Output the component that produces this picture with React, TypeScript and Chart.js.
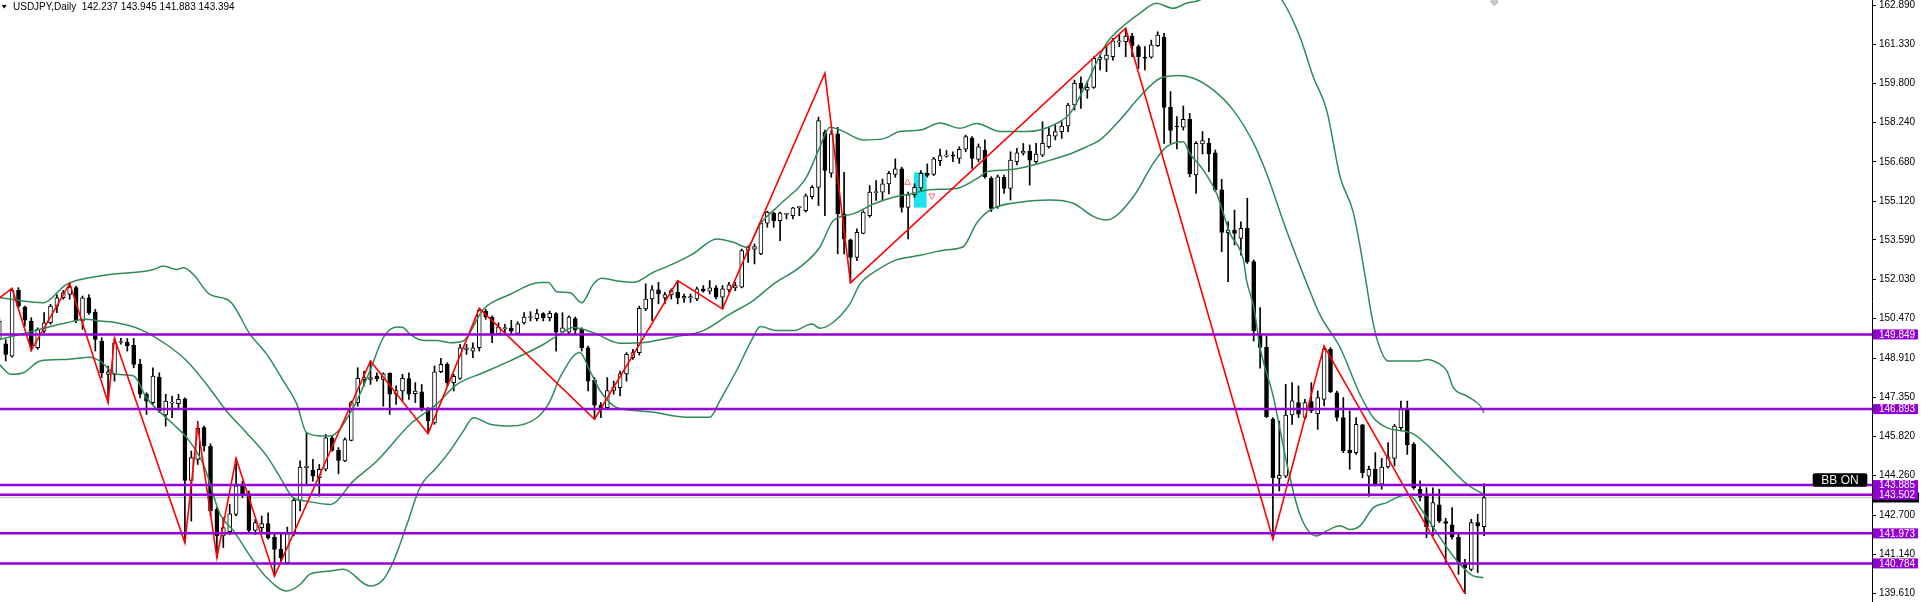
import React, { useEffect, useRef } from "react";
import { Chart, registerables } from "chart.js";

Chart.register(...registerables);

const symbolTitle = "USDJPY,Daily  142.237 143.945 141.883 143.394";
const firstBarIndex = -1;

const opens = [
  149.65, 149.48, 148.99, 151.59, 150.93, 150.38, 149.32, 149.98, 150.31, 150.97, 151.30, 151.43, 151.70, 150.38, 151.30, 150.73,
  149.59, 148.27, 148.27, 149.53, 149.55, 149.42, 148.66, 147.48, 147.15, 148.16, 146.66, 147.13, 147.11, 147.30, 144.07, 144.90,
  146.16, 145.43, 142.92, 141.87, 142.04, 142.72, 143.85, 143.54, 142.09, 142.20, 142.36, 141.83, 141.34, 140.81, 141.96, 143.28,
  144.57, 144.47, 144.18, 144.51, 145.76, 145.26, 144.84, 145.65, 147.15, 148.06, 148.07, 148.20, 148.07, 148.31, 147.48, 147.61,
  148.10, 147.50, 147.58, 146.88, 146.35, 148.37, 148.66, 147.94, 148.11, 149.26, 149.19, 149.32, 150.77, 150.54, 149.88, 150.08,
  150.09, 149.89, 150.30, 150.52, 150.47, 150.67, 150.51, 150.67, 149.94, 149.94, 150.48, 150.05, 149.32, 148.03, 147.05, 146.95,
  147.63, 147.74, 148.29, 148.93, 149.13, 150.86, 151.25, 151.61, 151.29, 151.41, 151.52, 151.28, 151.29, 151.25, 151.65, 151.56,
  151.69, 151.32, 151.61, 151.69, 151.72, 153.17, 153.22, 153.04, 154.25, 154.65, 154.35, 154.60, 154.55, 154.87, 154.75, 155.30,
  155.67, 157.85, 156.23, 157.79, 154.62, 153.59, 152.90, 153.85, 154.55, 155.46, 155.48, 155.81, 156.18, 156.40, 154.88, 155.38,
  155.65, 156.23, 156.18, 156.73, 156.91, 156.95, 156.82, 157.18, 157.61, 156.78, 157.15, 156.03, 154.91, 156.07, 155.63, 156.69,
  157.02, 157.11, 156.69, 156.95, 157.28, 157.70, 157.88, 158.10, 158.93, 159.79, 159.52, 159.63, 160.74, 160.74, 160.84, 161.43,
  161.44, 161.66, 161.24, 160.82, 160.82, 161.28, 161.61, 158.84, 158.09, 158.05, 158.36, 156.16, 157.39, 157.41, 157.04, 155.57,
  153.88, 153.98, 153.65, 154.05, 152.73, 149.88, 149.35, 146.49, 144.15, 144.24, 146.66, 147.15, 146.56, 147.19, 146.71, 147.28,
  149.26, 147.54, 146.56, 145.26, 145.17, 146.27, 144.24, 144.51, 143.92, 144.60, 144.94, 146.16, 146.88, 145.50, 143.72, 143.45,
  142.23, 143.10, 142.44, 142.31, 141.83, 140.81, 140.55, 142.40, 142.237
];
const highs = [
  150.51, 149.65, 151.67, 151.70, 150.97, 150.51, 150.11, 150.71, 151.04, 151.43, 151.59, 151.90, 151.76, 151.37, 151.43, 150.84,
  149.72, 148.60, 149.69, 149.69, 149.69, 149.69, 148.86, 147.54, 148.53, 148.33, 147.48, 147.41, 147.48, 147.34, 145.23, 146.40,
  146.22, 145.52, 142.99, 142.59, 143.12, 144.94, 144.04, 143.65, 142.53, 142.66, 142.79, 141.93, 141.93, 142.22, 143.38, 144.84,
  145.96, 144.90, 144.70, 145.89, 145.83, 145.37, 145.76, 147.21, 148.53, 148.40, 148.80, 148.33, 148.33, 148.33, 147.81, 148.27,
  148.33, 147.94, 147.87, 146.95, 148.60, 148.90, 148.73, 148.27, 149.46, 149.46, 149.52, 150.88, 150.84, 150.58, 150.31, 150.25,
  150.41, 150.35, 150.71, 150.75, 150.84, 150.71, 150.77, 150.71, 150.71, 150.58, 150.54, 150.11, 149.39, 148.14, 147.15, 148.14,
  148.00, 148.40, 149.13, 149.26, 150.97, 151.85, 151.78, 151.91, 151.52, 151.65, 151.98, 151.45, 151.45, 151.72, 151.78, 151.98,
  151.78, 151.78, 151.91, 151.91, 153.23, 153.36, 153.43, 154.35, 154.73, 154.69, 154.69, 154.65, 154.88, 154.91, 155.41, 155.74,
  158.45, 157.94, 157.92, 158.05, 156.27, 153.63, 154.03, 154.75, 155.74, 155.94, 156.00, 156.31, 156.80, 156.47, 155.48, 155.81,
  156.34, 156.60, 156.86, 157.19, 157.13, 157.08, 157.28, 157.74, 157.68, 157.39, 157.55, 156.09, 156.16, 156.16, 157.08, 157.22,
  157.41, 157.35, 157.41, 158.27, 158.07, 158.14, 158.27, 159.00, 159.92, 160.05, 159.85, 160.84, 160.91, 161.24, 161.57, 161.70,
  161.95, 161.77, 161.31, 161.24, 161.50, 161.83, 161.77, 159.46, 158.47, 158.89, 158.60, 157.48, 157.88, 157.61, 157.15, 155.99,
  154.31, 154.77, 154.31, 155.24, 152.80, 150.91, 149.79, 146.56, 146.42, 147.87, 147.94, 147.81, 147.28, 147.94, 147.61, 149.39,
  149.33, 147.61, 147.35, 146.82, 146.56, 146.29, 144.64, 145.17, 144.94, 145.57, 146.29, 147.21, 147.21, 145.57, 144.05, 143.78,
  143.78, 143.72, 142.57, 142.99, 142.00, 140.95, 142.53, 142.73, 143.945
];
const lows = [
  149.59, 148.80, 148.95, 150.91, 150.18, 149.19, 149.26, 149.92, 150.25, 150.71, 151.24, 151.24, 150.31, 150.05, 150.64, 149.19,
  148.14, 147.15, 148.00, 149.46, 149.19, 148.53, 147.34, 146.68, 147.08, 146.75, 146.22, 146.55, 146.95, 141.60, 142.46, 144.70,
  145.23, 142.66, 141.01, 141.41, 141.93, 142.66, 143.39, 142.00, 141.93, 142.00, 141.74, 140.28, 140.81, 140.75, 141.87, 142.86,
  143.85, 144.04, 143.45, 144.44, 145.23, 144.33, 144.81, 145.63, 147.01, 147.81, 147.87, 148.00, 147.01, 146.68, 147.08, 147.21,
  147.28, 147.15, 146.82, 145.92, 146.29, 148.33, 147.81, 147.61, 148.07, 149.06, 148.93, 149.19, 150.45, 149.52, 149.85, 149.92,
  149.85, 149.85, 150.25, 150.38, 150.38, 150.38, 150.38, 149.19, 149.92, 149.85, 149.85, 149.19, 147.61, 146.49, 146.55, 146.88,
  147.48, 147.41, 148.00, 148.86, 149.03, 150.79, 150.39, 151.06, 151.06, 151.25, 151.06, 151.12, 151.12, 151.19, 151.52, 151.45,
  151.25, 150.86, 151.52, 151.58, 151.69, 152.70, 152.64, 153.01, 154.09, 154.09, 153.56, 154.42, 154.42, 154.55, 154.69, 155.21,
  154.95, 154.55, 156.07, 153.04, 153.04, 151.91, 152.77, 153.83, 154.49, 155.15, 155.15, 155.41, 156.07, 154.69, 153.63, 155.28,
  155.54, 156.07, 156.14, 156.53, 156.86, 156.69, 156.62, 157.08, 156.42, 156.69, 156.03, 154.71, 154.84, 155.43, 155.17, 156.56,
  156.95, 155.76, 156.62, 156.89, 157.22, 157.55, 157.61, 157.88, 158.73, 158.80, 159.20, 159.59, 160.32, 160.25, 160.71, 161.24,
  160.84, 160.84, 160.38, 160.32, 160.78, 161.24, 157.41, 157.41, 157.19, 157.94, 156.09, 155.43, 156.99, 156.29, 155.50, 153.12,
  151.94, 153.39, 152.99, 152.66, 149.59, 148.51, 146.56, 141.74, 143.65, 144.18, 146.29, 146.56, 146.49, 146.75, 146.09, 147.02,
  147.54, 146.42, 145.17, 144.51, 145.10, 144.18, 143.45, 143.85, 143.72, 144.55, 144.64, 146.03, 145.10, 143.72, 143.26, 141.80,
  141.87, 142.40, 140.75, 141.74, 140.35, 139.59, 140.49, 140.42, 141.883
];
const closes = [
  150.38, 149.06, 151.59, 150.97, 150.41, 149.39, 150.05, 150.31, 150.97, 151.30, 151.50, 151.72, 150.38, 151.30, 150.71, 149.65,
  148.33, 148.37, 149.52, 149.56, 149.39, 148.66, 147.48, 147.21, 148.20, 146.82, 147.21, 147.16, 147.28, 144.07, 144.97, 146.13,
  145.43, 142.86, 141.87, 142.20, 142.75, 143.85, 143.54, 142.09, 142.40, 142.36, 141.80, 141.34, 141.01, 141.96, 143.28, 144.60,
  144.64, 144.24, 144.51, 145.76, 145.26, 144.86, 145.69, 147.15, 148.11, 148.14, 148.14, 148.10, 148.29, 147.48, 147.63, 148.11,
  147.48, 147.61, 146.88, 146.42, 148.37, 148.66, 147.94, 148.19, 149.32, 149.32, 149.32, 150.80, 150.54, 149.88, 150.14, 150.10,
  149.98, 150.27, 150.54, 150.55, 150.67, 150.51, 150.68, 149.94, 150.11, 150.54, 150.02, 149.32, 148.00, 147.05, 146.95, 147.63,
  147.77, 148.29, 149.06, 149.13, 150.88, 151.25, 151.61, 151.45, 151.43, 151.58, 151.29, 151.36, 151.35, 151.65, 151.56, 151.69,
  151.32, 151.65, 151.81, 151.78, 153.17, 153.30, 153.33, 154.25, 154.69, 154.35, 154.65, 154.63, 154.86, 154.90, 155.34, 155.67,
  158.31, 156.34, 157.79, 154.62, 153.63, 152.90, 153.89, 154.69, 155.48, 155.49, 155.81, 156.23, 156.40, 154.88, 155.38, 155.67,
  156.23, 156.14, 156.80, 156.93, 156.94, 156.91, 157.18, 157.68, 156.82, 157.28, 156.09, 154.84, 156.09, 155.63, 156.75, 157.04,
  157.11, 156.75, 156.99, 157.41, 157.74, 157.88, 158.10, 158.93, 159.79, 159.59, 159.63, 160.78, 160.82, 160.91, 161.47, 161.45,
  161.66, 161.27, 160.84, 160.79, 161.31, 161.70, 158.84, 157.92, 158.06, 158.36, 156.20, 157.41, 157.52, 156.99, 155.57, 153.89,
  153.98, 153.85, 154.05, 152.73, 149.99, 149.33, 146.58, 144.18, 144.27, 146.66, 147.22, 146.69, 147.15, 146.82, 147.35, 149.26,
  147.58, 146.56, 145.24, 145.17, 146.29, 144.38, 144.51, 143.92, 144.60, 145.00, 146.22, 146.88, 145.47, 143.78, 143.41, 142.23,
  143.19, 142.46, 142.37, 141.83, 140.85, 140.62, 142.40, 142.27, 143.394
];

const bbUpper: [number, number][] = [
  [-1, 151.30], [5.9, 151.10], [9.5, 151.83], [14.7, 152.16], [23.1, 152.42], [24.6, 152.56], [26.7, 152.42], [27.75, 152.49],
  [29.3, 152.23], [31.9, 151.43], [35.0, 151.17], [38.2, 149.85], [40.8, 149.06], [43.4, 148.0], [45.5, 147.08], [47.0, 145.96],
  [49.6, 145.83], [50.7, 145.83], [54.3, 146.95], [56.9, 148.4], [59.0, 149.72], [61.1, 150.14], [62.1, 150.12], [63.2, 149.85],
  [65.3, 149.61], [67.3, 149.61], [69.4, 149.52], [71.5, 149.59], [74.6, 150.84], [78.8, 151.43], [83.5, 151.9], [84.8, 151.9],
  [86.1, 151.54], [88.2, 151.5], [90.0, 151.1], [91.8, 151.83], [93.1, 152.07], [96.0, 151.95], [98.1, 151.91], [101.2, 152.31],
  [104.3, 152.64], [107.4, 153.04], [111.1, 153.63], [113.7, 153.5], [115.8, 153.3], [117.9, 154.22], [121.0, 155.0], [125.1, 156.07],
  [127.2, 157.26], [128.8, 158.05], [130.4, 157.94], [134.0, 157.55], [137.1, 157.59], [139.7, 157.88], [142.9, 157.94], [146.0, 158.22],
  [149.1, 158.01], [151.7, 158.2], [155.4, 157.88], [159.5, 157.88], [161.6, 157.94], [164.2, 158.2], [166.3, 158.6], [168.9, 159.79],
  [172.0, 161.37], [175.1, 162.16], [177.2, 162.56], [179.8, 162.96], [182.4, 162.76], [184.5, 162.96], [186.6, 163.09], [189, 163.5],
  [192, 163.8], [195, 163.8], [198, 163.4], [199.4, 163.09], [202.2, 161.64], [204.3, 160.05], [206.4, 158.73], [208.5, 156.09],
  [210.6, 154.64], [212.6, 151.87], [213.2, 150.91], [214.2, 149.72], [216.0, 148.8], [221.0, 148.8], [222.0, 148.86], [224.1, 148.67],
  [225.2, 148.4], [226.2, 147.74], [228.3, 147.41], [230.4, 147.02], [231, 146.75]
];
const bbMiddle: [number, number][] = [
  [-1, 149.65], [4.3, 149.98], [9.5, 150.31], [12.6, 150.45], [14.7, 150.38], [17.3, 150.31], [21.0, 150.05], [25.1, 149.45],
  [28.3, 148.8], [31.4, 147.87], [34.5, 146.82], [37.6, 145.96], [40.8, 145.03], [42.9, 144.18], [44.9, 143.39], [47.0, 143.25],
  [50.7, 143.12], [54.3, 144.04], [58.0, 144.84], [63.2, 146.29], [67.3, 147.08], [70.5, 147.87], [74.6, 148.33], [78.8, 148.8],
  [84.0, 149.45], [86.1, 149.78], [88.7, 150.12], [91.8, 149.92], [96.0, 149.5], [100.1, 149.54], [104.3, 149.74], [109.0, 150.0],
  [113.2, 150.66], [116.8, 151.19], [120.0, 151.85], [124.1, 152.51], [127.2, 153.3], [129.3, 154.35], [132.4, 154.62], [135.6, 155.01],
  [138.7, 155.28], [141.3, 155.41], [144.4, 155.58], [148.6, 155.63], [152.2, 156.09], [153.3, 156.29], [156.4, 156.36], [159.5, 156.49],
  [163.2, 156.75], [165.8, 156.95], [168.9, 157.28], [171.0, 157.55], [174.1, 158.34], [177.2, 159.26], [180.4, 159.99], [183.3, 160.1],
  [185.6, 159.99], [188.7, 159.52], [191.8, 158.73], [195.0, 157.41], [197.0, 156.23], [200.1, 153.98], [203.3, 151.87], [205.4, 150.6],
  [208.5, 149.33], [211.6, 147.48], [213.7, 146.55], [215.8, 146.16], [220.0, 145.9], [224.1, 144.97], [228.3, 143.92], [230.9, 143.52]
];
const bbLower: [number, number][] = [
  [-1, 148.66], [0.8, 148.27], [2.75, 148.33], [5.4, 148.8], [9.5, 148.86], [13.2, 148.95], [14.7, 148.8], [17.3, 148.27],
  [20.0, 148.2], [22.0, 147.34], [26.2, 146.29], [28.3, 145.76], [30.9, 144.7], [33.5, 142.73], [35.6, 142.07], [38.7, 140.88],
  [40.8, 140.22], [43.9, 139.69], [46.0, 139.95], [47.5, 140.35], [50.7, 140.48], [52.8, 140.55], [56.9, 139.89], [59.0, 140.15],
  [60.6, 140.88], [62.7, 142.33], [64.7, 143.78], [67.3, 144.57], [69.4, 145.23], [71.5, 146.02], [73.1, 146.55], [75.7, 146.29],
  [78.8, 146.22], [83.0, 146.55], [85.05, 147.21], [86.6, 148.14], [89.7, 149.13], [91.3, 148.4], [92.9, 147.61], [95.5, 146.95],
  [99.1, 146.82], [101.2, 146.77], [106.4, 146.57], [110.0, 146.57], [111.6, 147.23], [114.2, 148.42], [116.8, 149.74], [117.9, 150.16],
  [120.5, 150.0], [123.1, 150.0], [126.0, 150.26], [127.2, 150.09], [129.3, 150.33], [131.9, 151.06], [133.5, 151.85], [136.1, 152.38],
  [139.2, 152.8], [142.9, 152.98], [147.0, 153.2], [149.6, 153.32], [151.7, 154.25], [153.8, 154.77], [159.0, 155.1], [163.2, 155.17],
  [166.8, 155.04], [170.0, 154.51], [172.0, 154.38], [176.2, 155.3], [179.3, 156.62], [181.4, 157.28], [184.0, 157.48], [185.0, 157.02],
  [187.1, 156.36], [189.2, 155.43], [191.3, 153.85], [193.4, 152.79], [193.9, 151.97], [195.0, 150.95], [196.0, 149.33], [198.1, 147.35],
  [200.2, 144.71], [202.2, 142.73], [204.8, 141.87], [206.4, 142.07], [208.5, 142.27], [210.0, 142.13], [211.6, 142.27], [213.7, 142.99],
  [215.8, 143.19], [217.9, 143.45], [219.2, 143.52], [221.0, 142.99], [223.1, 142.2], [225.2, 141.41], [227.2, 140.75], [229.3, 140.29],
  [230.9, 140.22]
];

const zigzagPoints: [number, number][] = [
  [-1, 151.29], [1, 151.67], [4, 149.22], [10, 151.87], [16, 147.15], [17, 149.69], [28, 141.60], [30, 146.22],
  [33, 141.01], [36, 144.94], [42, 140.28], [57, 148.80], [66, 145.92], [74, 150.88], [92, 146.49], [105, 151.98],
  [112, 150.86], [128, 160.19], [132, 151.89], [175, 161.97], [198, 141.74], [206, 149.39], [228, 139.59]
];

const levelPrices = [149.849, 146.893, 143.885, 143.502, 141.973, 140.784];
const bidPrice = 143.394;
const yTickValues = [162.89, 161.33, 159.8, 158.24, 156.68, 155.12, 153.59, 152.03, 150.47, 148.91, 147.35, 145.82, 144.26, 142.7, 141.14, 139.61];
const signalZoneBar = 142.9;
const signalZoneRange: [number, number] = [154.88, 156.25];
const buyArrow: [number, number] = [140.9, 155.86];
const sellArrow: [number, number] = [144.7, 155.34];
const topMarker: [number, number] = [232.6, 163.02];
const buttonLabel = "BB ON";

const X_MIN = -0.8906;
const X_MAX = 291.61;
const Y_MIN = 139.256;
const Y_MAX = 163.088;

const overlayPlugin = {
  id: "mtOverlay",
  afterDraw(chart: any) {
    const ctx = chart.ctx as CanvasRenderingContext2D;
    const y = chart.scales.y;
    const area = chart.chartArea;
    ctx.save();
    // bid price label (mostly hidden)
    const by = y.getPixelForValue(bidPrice);
    ctx.fillStyle = "#000";
    ctx.fillRect(area.right + 1, by - 5, 46, 10);
    // level labels
    ctx.font = '10px "Liberation Sans", Arial, sans-serif';
    ctx.textBaseline = "middle";
    ctx.textAlign = "left";
    for (const p of levelPrices) {
      const py = y.getPixelForValue(p);
      ctx.fillStyle = "#9400D3";
      ctx.fillRect(area.right + 1, py - 5, 45, 10);
      ctx.fillStyle = "#ffffff";
      ctx.fillText(p.toFixed(3), area.right + 7, py + 0.5);
    }
    // BB ON button
    const bx = area.right - 59.3;
    const bTop = 473.3;
    const bw = 54.6;
    const bh = 13.4;
    ctx.fillStyle = "#000";
    ctx.beginPath();
    (ctx as any).roundRect ? (ctx as any).roundRect(bx, bTop, bw, bh, 2) : ctx.rect(bx, bTop, bw, bh);
    ctx.fill();
    ctx.fillStyle = "#f2f2f2";
    ctx.font = '12px "Liberation Sans", Arial, sans-serif';
    ctx.textAlign = "center";
    ctx.fillText(buttonLabel, bx + bw / 2, bTop + bh / 2 + 0.5);
    // title
    ctx.fillStyle = "#000";
    ctx.beginPath();
    ctx.moveTo(1.7, 5);
    ctx.lineTo(6.7, 5);
    ctx.lineTo(4.2, 8.5);
    ctx.closePath();
    ctx.fill();
    ctx.font = '10px "Liberation Sans", Arial, sans-serif';
    ctx.textAlign = "left";
    ctx.fillText(symbolTitle, 13, 7.5);
    ctx.restore();
  },
};

export default function App() {
  const ref = useRef<HTMLCanvasElement>(null);
  useEffect(() => {
    const canvas = ref.current;
    if (!canvas) return;
    const xs = opens.map((_, k) => k + firstBarIndex);
    const bodies = xs.map((x, k) => ({ x, y: [opens[k], closes[k]] }));
    const wicks = xs.map((x, k) => ({ x, y: [lows[k], highs[k]] }));
    const bodyFill = xs.map((_, k) => (closes[k] >= opens[k] ? "#ffffff" : "#000000"));
    const toPts = (arr: [number, number][]) => arr.map(([x, v]) => ({ x, y: v }));
    const bandStyle = {
      type: "line" as const,
      borderColor: "#2e8b57",
      borderWidth: 1.5,
      pointRadius: 0,
      cubicInterpolationMode: "monotone" as const,
      fill: false,
      order: 3,
    };
    const levelSets = levelPrices.map((p) => ({
      type: "line" as const,
      data: [{ x: X_MIN, y: p }, { x: X_MAX, y: p }],
      borderColor: "#9400D3",
      borderWidth: 2.5,
      pointRadius: 0,
      fill: false,
      order: 0,
    }));
    const chart = new Chart(canvas, {
      type: "bar",
      data: {
        datasets: [
          ...levelSets,
          {
            type: "line",
            data: toPts(zigzagPoints),
            borderColor: "#ff0000",
            borderWidth: 1.6,
            pointRadius: 0,
            fill: false,
            order: 1,
          },
          {
            type: "line",
            data: [{ x: buyArrow[0], y: buyArrow[1] }],
            showLine: false,
            pointStyle: "triangle",
            pointRadius: 3.5,
            pointRotation: 0,
            pointBorderColor: "#ff6a6a",
            pointBackgroundColor: "#ffffff",
            pointBorderWidth: 1,
            order: 2,
          },
          {
            type: "line",
            data: [{ x: sellArrow[0], y: sellArrow[1] }],
            showLine: false,
            pointStyle: "triangle",
            pointRadius: 3.5,
            pointRotation: 180,
            pointBorderColor: "#ff6a6a",
            pointBackgroundColor: "#ffffff",
            pointBorderWidth: 1,
            order: 2,
          },
          {
            type: "line",
            data: [{ x: topMarker[0], y: topMarker[1] }],
            showLine: false,
            pointStyle: "rectRot",
            pointRadius: 4,
            pointBorderColor: "#b8b8b8",
            pointBackgroundColor: "#c8c8c8",
            pointBorderWidth: 1,
            order: 2,
          },
          { ...bandStyle, data: toPts(bbUpper) },
          { ...bandStyle, data: toPts(bbMiddle) },
          { ...bandStyle, data: toPts(bbLower) },
          {
            type: "bar",
            data: bodies as any,
            backgroundColor: bodyFill,
            borderColor: "#000000",
            borderWidth: 1,
            borderSkipped: false,
            barThickness: 4,
            minBarLength: 1,
            grouped: false,
            order: 4,
          },
          {
            type: "bar",
            data: wicks as any,
            backgroundColor: "#000000",
            borderWidth: 0,
            barThickness: 1,
            grouped: false,
            order: 5,
          },
          {
            type: "bar",
            data: [{ x: signalZoneBar, y: signalZoneRange }] as any,
            backgroundColor: "#1ee3ee",
            borderWidth: 0,
            barThickness: 12,
            grouped: false,
            order: 6,
          },
          {
            type: "line",
            data: [{ x: X_MIN, y: bidPrice }, { x: X_MAX, y: bidPrice }],
            borderColor: "#cfcfcf",
            borderWidth: 1.5,
            pointRadius: 0,
            fill: false,
            order: 7,
          },
        ] as any,
      },
      options: {
        responsive: false,
        animation: false,
        events: [],
        layout: { padding: 0, autoPadding: false },
        plugins: {
          legend: { display: false },
          tooltip: { enabled: false },
          title: { display: false },
        },
        scales: {
          x: {
            type: "linear",
            min: X_MIN,
            max: X_MAX,
            offset: false,
            display: false,
          },
          y: {
            type: "linear",
            position: "right",
            min: Y_MIN,
            max: Y_MAX,
            afterBuildTicks: (s: any) => {
              s.ticks = yTickValues.map((v) => ({ value: v }));
            },
            afterFit: (s: any) => {
              s.width = 49;
              s.paddingTop = 0;
              s.paddingBottom = 0;
            },
            ticks: {
              autoSkip: false,
              padding: 3,
              color: "#000000",
              font: { family: "Liberation Sans", size: 10 },
              callback: (v: any) => Number(v).toFixed(3),
            },
            grid: {
              drawOnChartArea: false,
              drawTicks: true,
              tickLength: 4,
              color: "#000000",
              lineWidth: 1,
            },
            border: { display: true, color: "#000000", width: 1 },
          },
        },
      } as any,
      plugins: [overlayPlugin],
    });
    return () => chart.destroy();
  }, []);
  return (
    <div style={{ position: "fixed", left: 0, top: 0, width: 1921, height: 602, background: "#ffffff" }}>
      <canvas ref={ref} width={1921} height={602} style={{ display: "block" }} />
    </div>
  );
}
